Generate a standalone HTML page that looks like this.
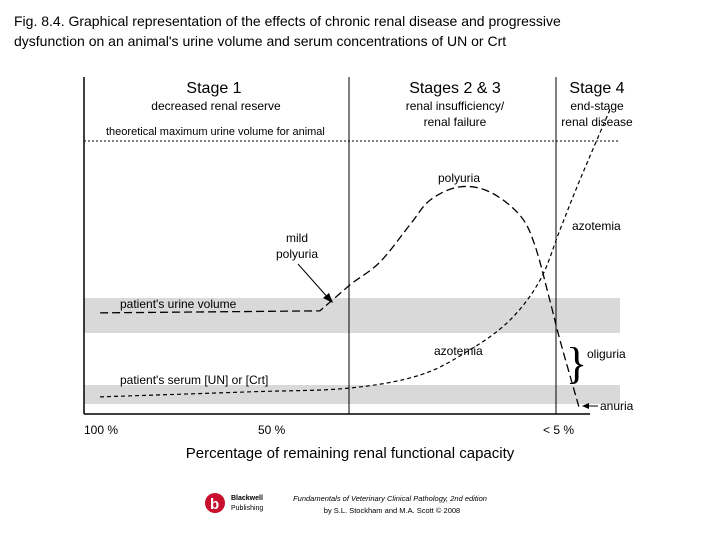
<!DOCTYPE html>
<html><head><meta charset="utf-8"><style>
body{margin:0;background:#fff;width:720px;height:540px;overflow:hidden;font-family:"Liberation Sans",sans-serif}
</style></head><body>
<svg width="720" height="540" viewBox="0 0 720 540" font-family="Liberation Sans, sans-serif">
<text x="14" y="26" font-size="14">Fig. 8.4. Graphical representation of the effects of chronic renal disease and progressive</text>
<text x="14" y="46" font-size="14">dysfunction on an animal's urine volume and serum concentrations of UN or Crt</text>
<rect x="84" y="298" width="536" height="35" fill="#d9d9d9"/>
<rect x="84" y="385" width="536" height="19" fill="#d9d9d9"/>
<line x1="84" y1="77" x2="84" y2="414" stroke="#000" stroke-width="1.5"/>
<line x1="84" y1="414" x2="590" y2="414" stroke="#000" stroke-width="1.5"/>
<line x1="349" y1="77" x2="349" y2="414" stroke="#000"/>
<line x1="556" y1="77" x2="556" y2="414" stroke="#000"/>
<line x1="84" y1="141" x2="620" y2="141" stroke="#000" stroke-dasharray="2,2"/>
<g text-anchor="middle">
<text x="214" y="93" font-size="16">Stage 1</text>
<text x="216" y="110" font-size="12">decreased renal reserve</text>
<text x="455" y="93" font-size="16">Stages 2 &amp; 3</text>
<text x="455" y="110" font-size="12">renal insufficiency/</text>
<text x="455" y="126" font-size="12">renal failure</text>
<text x="597" y="93" font-size="16">Stage 4</text>
<text x="597" y="110" font-size="12">end-stage</text>
<text x="597" y="126" font-size="12">renal disease</text>
</g>
<text x="106" y="135" font-size="11">theoretical maximum urine volume for animal</text>
<text x="120" y="308" font-size="12">patient's urine volume</text>
<text x="120" y="384" font-size="12">patient's serum [UN] or [Crt]</text>
<text x="459" y="182" font-size="12" text-anchor="middle">polyuria</text>
<text x="297" y="242" font-size="12" text-anchor="middle">mild</text>
<text x="297" y="258" font-size="12" text-anchor="middle">polyuria</text>
<line x1="298" y1="264" x2="330" y2="300" stroke="#000"/>
<polygon points="333,303 323,298 329,293" fill="#000"/>
<text x="434" y="355" font-size="12">azotemia</text>
<text x="572" y="230" font-size="12">azotemia</text>
<text x="587" y="358" font-size="12">oliguria</text>
<text x="566" y="378" font-size="44" font-family="Liberation Serif, serif">}</text>
<text x="600" y="410" font-size="12">anuria</text>
<line x1="584" y1="406" x2="598" y2="406" stroke="#000"/>
<polygon points="582,406 589,403 589,409" fill="#000"/>
<g font-size="12">
<text x="84" y="434">100 %</text><text x="258" y="434">50 %</text><text x="543" y="434">&lt; 5 %</text>
</g>
<text x="350" y="458" font-size="15" text-anchor="middle">Percentage of remaining renal functional capacity</text>
<g id="series"></g>
<g>
<circle cx="215" cy="503" r="10" fill="#c8102e"/>
<text x="210" y="509" font-size="15" fill="#fff" font-weight="bold">b</text>
<text x="231" y="500" font-size="7" font-weight="bold">Blackwell</text>
<text x="231" y="510" font-size="7">Publishing</text>
</g>
<text x="390" y="501" font-size="7.5" font-style="italic" text-anchor="middle">Fundamentals of Veterinary Clinical Pathology, 2nd edition</text>
<text x="392" y="513" font-size="7.5" text-anchor="middle">by S.L. Stockham and M.A. Scott © 2008</text>
</svg>
<script>
const urineX=[3,44,49.6,55.2,60.8,64.6,70.1,75.7,81.3,84.1,86.9,88.8,92.5];
const urineY=[29.8,30.4,38.1,44.9,56,63.4,67.3,65.8,58.9,50,33.6,21.7,0.9];
const serumX=[3,31,49.4,62.7,72,79.5,85.1,88.8,92.5,98.1];
const serumY=[4.8,6.3,7.4,11.3,18.8,27.7,39.6,54.5,69.3,90.2];
function sx(v){return 84+v*5.36;}
function sy(v){return 413-v*3.36;}
function path(xs,ys,linearUntil){
  const p=xs.map((x,i)=>[sx(x),sy(ys[i])]);
  let d='M'+p[0][0]+','+p[0][1];
  for(let i=0;i<p.length-1;i++){
    if(i<linearUntil){d+=' L'+p[i+1];continue;}
    const a=p[Math.max(i-1,0)],b=p[i],c=p[i+1],e=p[Math.min(i+2,p.length-1)];
    const c1=[b[0]+(c[0]-a[0])/6,b[1]+(c[1]-a[1])/6],c2=[c[0]-(e[0]-b[0])/6,c[1]-(e[1]-b[1])/6];
    d+=' C'+c1+' '+c2+' '+c;
  }
  return d;
}
const g=document.getElementById('series');
const u=document.createElementNS('http://www.w3.org/2000/svg','path');
u.setAttribute('d',path(urineX,urineY,2));u.setAttribute('fill','none');u.setAttribute('stroke','#000');u.setAttribute('stroke-width','1.3');u.setAttribute('stroke-dasharray','8,4');


g.appendChild(u);
const s=document.createElementNS('http://www.w3.org/2000/svg','path');
s.setAttribute('d',path(serumX,serumY,0));s.setAttribute('fill','none');s.setAttribute('stroke','#000');s.setAttribute('stroke-width','1.2');s.setAttribute('stroke-dasharray','4,3');


g.appendChild(s);
</script>
</body></html>
